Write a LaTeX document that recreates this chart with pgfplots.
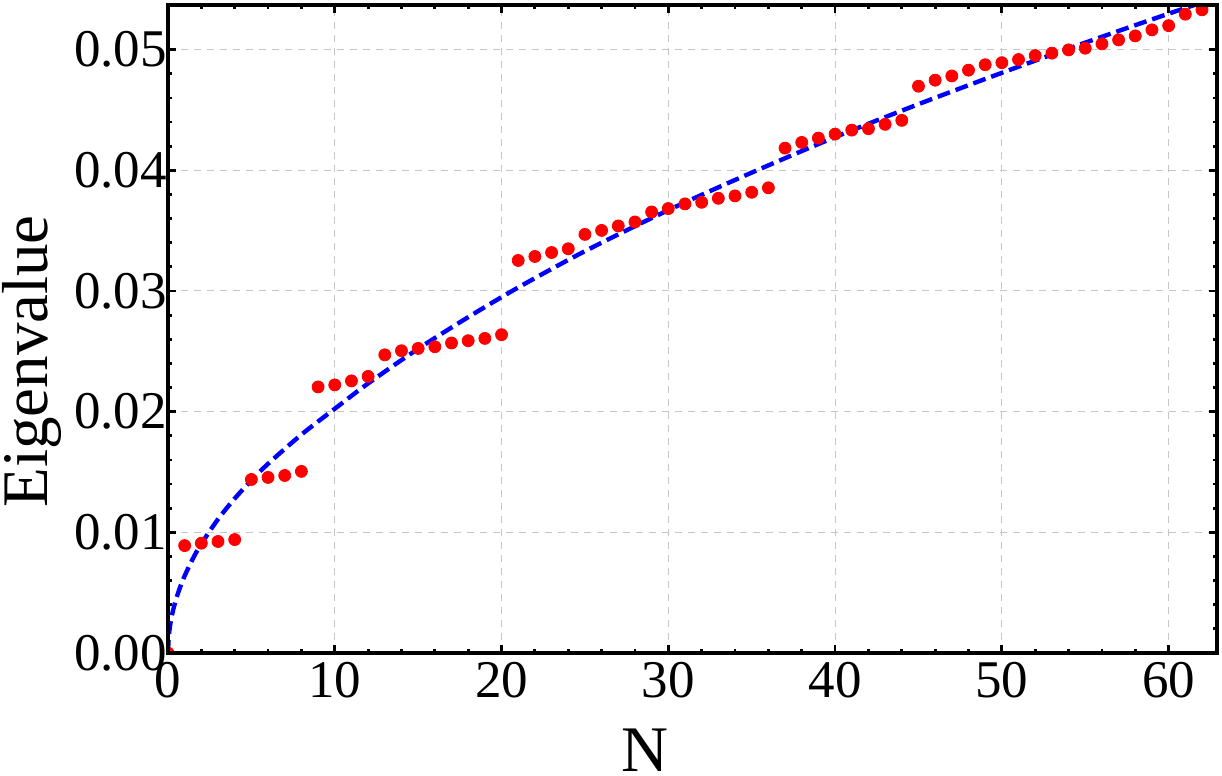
\documentclass[border=0pt]{standalone}
\usepackage{fontspec}
\setmainfont{Liberation Serif}
\usepackage{pgfplots}
\pgfplotsset{compat=1.18}
\begin{document}
\begin{tikzpicture}
\begin{axis}[
  name=ax,
  scale only axis,
  width=524.5pt, height=324pt,
  xmin=0, xmax=62.9, ymin=0, ymax=0.0537,
  xtick={0,10,...,60},
  ytick={0,0.01,...,0.05},
  minor x tick num=4,
  minor y tick num=4,
  scaled y ticks=false,
  /pgf/number format/assume math mode=true,
  yticklabel style={/pgf/number format/fixed,/pgf/number format/fixed zerofill,/pgf/number format/precision=2, xshift=3pt},
  xticklabel style={yshift=-1pt},
  tick label style={font=\fontsize{26.5}{30}\selectfont},
  label style={font=\fontsize{32.5}{36}\selectfont},
  xlabel={N},
  ylabel={Eigenvalue},
  xlabel style={at={(axis description cs:0.455,-0.1836)}, anchor=base},
  ylabel style={at={(axis description cs:-0.1153,0.45)}, anchor=base, rotate=0},
  tick align=inside,
  major tick length=4pt,
  minor tick length=2pt,
  every tick/.style={black, line width=1.4pt},
  axis line style={line width=2pt},
  grid=major,
  major grid style={gray!45, line width=0.5pt, dash pattern=on 3.5pt off 3pt},
  clip marker paths=true,
]
\addplot[blue, line width=2.2pt, dash pattern=on 6.5pt off 3pt, smooth] coordinates {
(0,0) (0.05,0.00143) (0.15,0.00248) (0.3,0.00351) (0.5,0.00453) (0.75,0.00554)
(1,0.0064) (1.5,0.00784) (2,0.00905) (3,0.01109) (4,0.0128) (5,0.01431)
(6,0.01568) (8,0.0181) (10,0.02024) (12,0.02234) (15,0.02521) (18,0.02783)
(21,0.03029) (25,0.0333) (30,0.0367) (35,0.03981) (40,0.04275) (45,0.04548)
(50,0.04808) (55,0.05058) (60,0.05298) (63,0.05437)
};
\addplot[only marks, mark=*, mark size=3pt, color=red, mark options={fill=red, draw=red}] coordinates {
(0,0) (1,0.00890) (2,0.00910) (3,0.00924) (4,0.00940)
(5,0.01438) (6,0.01455) (7,0.01471) (8,0.01505)
(9,0.02205) (10,0.02222) (11,0.02255) (12,0.02292)
(13,0.02471) (14,0.02505) (15,0.02524) (16,0.02538) (17,0.02569) (18,0.02588) (19,0.02607) (20,0.02638)
(21,0.03253) (22,0.03286) (23,0.03319) (24,0.03350)
(25,0.03469) (26,0.03502) (27,0.03539) (28,0.03572) (29,0.03655) (30,0.03683)
(31,0.03722) (32,0.03735) (33,0.03768) (34,0.03788) (35,0.03818) (36,0.03855)
(37,0.04184) (38,0.04231) (39,0.04267) (40,0.04300) (41,0.04333) (42,0.04345) (43,0.04381) (44,0.04414)
(45,0.04697) (46,0.04747) (47,0.04782) (48,0.04830) (49,0.04875) (50,0.04892)
(51,0.04918) (52,0.04951) (53,0.04971) (54,0.04998) (55,0.05012) (56,0.05048)
(57,0.05081) (58,0.05114) (59,0.05164) (60,0.05199) (61,0.05294) (62,0.05330)
};
\draw[line width=2pt] (rel axis cs:0,0) rectangle (rel axis cs:1,1);
\end{axis}
\pgfresetboundingbox
\path[use as bounding box] ([shift={(-84pt,-61.5pt)}]ax.south west) rectangle ([shift={(2.5pt,2.5pt)}]ax.north east);
\end{tikzpicture}
\end{document}
